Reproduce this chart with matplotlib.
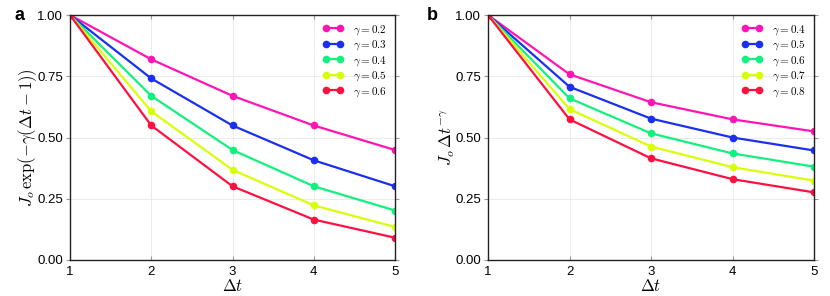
import numpy as np
import matplotlib.pyplot as plt

plt.rcParams['font.family'] = ['Liberation Sans', 'DejaVu Sans']
plt.rcParams['mathtext.fontset'] = 'cm'

# Data
dt = [1, 2, 3, 4, 5]

gammas_a = [0.2, 0.3, 0.4, 0.5, 0.6]
exp_a = [
    [1.0, 0.819, 0.670, 0.549, 0.449],
    [1.0, 0.741, 0.549, 0.407, 0.301],
    [1.0, 0.670, 0.449, 0.301, 0.202],
    [1.0, 0.607, 0.368, 0.223, 0.135],
    [1.0, 0.549, 0.301, 0.165, 0.091],
]

gammas_b = [0.4, 0.5, 0.6, 0.7, 0.8]
pow_b = [
    [1.0, 0.758, 0.644, 0.574, 0.525],
    [1.0, 0.707, 0.577, 0.500, 0.447],
    [1.0, 0.660, 0.517, 0.435, 0.381],
    [1.0, 0.616, 0.463, 0.379, 0.324],
    [1.0, 0.574, 0.415, 0.330, 0.276],
]

colors = ['#ff14b4', '#1a2ff0', '#12f07e', '#d8ff08', '#ff1040']

fig = plt.figure(figsize=(8.30, 2.96), dpi=100)
ax1 = fig.add_axes([70/830, 1-260/296, 325/830, 245/296])
ax2 = fig.add_axes([488/830, 1-260/296, 326/830, 245/296])


def draw(ax, gammas, series, ylabel):
    for g, y, c in zip(gammas, series, colors):
        ax.plot(dt, y, '-o', color=c, lw=1.6, ms=5.5, mew=0, label=r'$\gamma=%.1f$' % g)
    ax.set_xlim(1, 5)
    ax.set_ylim(0, 1)
    ax.set_xticks([1, 2, 3, 4, 5])
    ax.set_yticks([0, 0.25, 0.5, 0.75, 1.0])
    ax.set_yticklabels(['0.00', '0.25', '0.50', '0.75', '1.00'])
    ax.grid(True, color='#e8e8e8', lw=0.6)
    ax.tick_params(axis='x', direction='in', top=True, bottom=True, labelsize=9.5,
                   length=3, width=0.8, color='#999999', pad=4)
    ax.tick_params(axis='y', direction='out', left=True, right=True, labelsize=9.5,
                   length=3, width=0.8, color='#999999', pad=2)
    for s in ax.spines.values():
        s.set_linewidth(1.0)
        s.set_color('#222222')
    ax.set_xlabel(r'$\Delta t$', fontsize=12, labelpad=0)
    ax.set_ylabel(ylabel, fontsize=12, labelpad=-1)
    ax.legend(loc='upper right', frameon=False, fontsize=8, numpoints=2,
              handlelength=1.8, handletextpad=0.9, labelspacing=0.15,
              borderaxespad=0.3, borderpad=0.4)


draw(ax1, gammas_a, exp_a, r'$J_o\,\exp(-\gamma(\Delta t-1))$')
draw(ax2, gammas_b, pow_b, r'$J_o\,\Delta t^{-\gamma}$')

fig.text(14/830, 1-15/296, 'a', fontsize=13, fontweight='bold', va='center')
fig.text(427/830, 1-15/296, 'b', fontsize=13, fontweight='bold', va='center')

fig.savefig('out.png', dpi=100)
